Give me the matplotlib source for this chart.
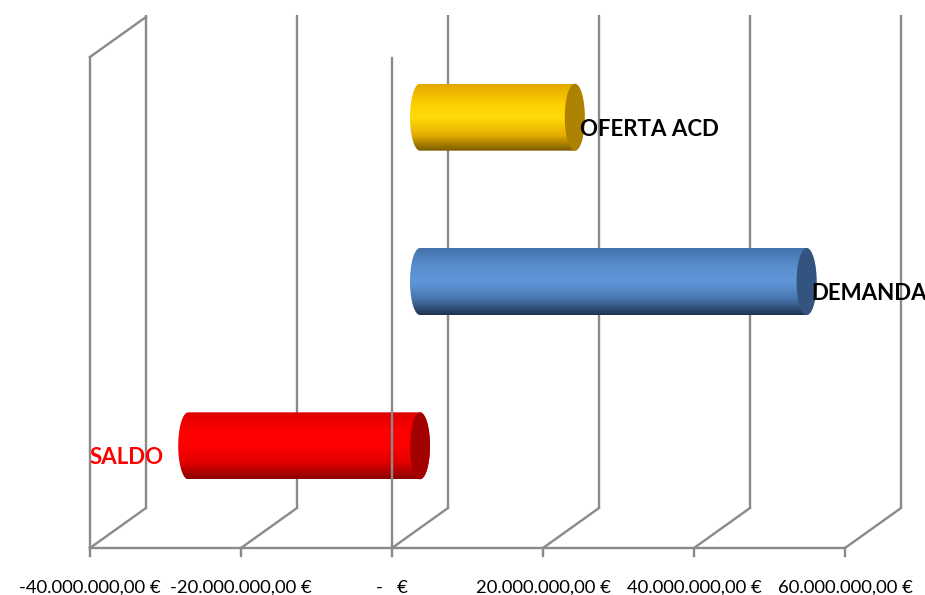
import numpy as np
import matplotlib
matplotlib.use("Agg")
import matplotlib.pyplot as plt
from matplotlib.patches import Ellipse, PathPatch
from matplotlib.path import Path
from matplotlib.colors import LinearSegmentedColormap

# ---- data ----
categories = ["SALDO", "DEMANDA", "OFERTA ACD"]          # bottom -> top
values = [-30.7e6, 51.2e6, 20.5e6]
label_colors = ["#FF0000", "#000000", "#000000"]
tick_values = [-40e6, -20e6, 0, 20e6, 40e6, 60e6]
tick_labels = ["-40.000.000,00 €", "-20.000.000,00 €", "-   €",
               "20.000.000,00 €", "40.000.000,00 €", "60.000.000,00 €"]

# ---- styles ----
body_stops = [
    ["#E00000", "#FF0000", "#FF0000", "#E40000", "#880000"],
    ["#4473AE", "#5A8FD0", "#5F97DA", "#4A78B2", "#1E3350"],
    ["#E3A800", "#FFCF00", "#FFDB0A", "#E8B000", "#7A5A00"],
]
cap_colors = ["#A30000", "#33547F", "#AD8200"]
FONT = ["Lato", "DejaVu Sans"]

W, H = 925, 595
fig = plt.figure(figsize=(W / 100, H / 100), dpi=100)
ax = fig.add_axes([0, 0, 1, 1])
UPP = 20e6 / 151.0      # value units per pixel
X0 = 392
ax.set_xlim(-X0 * UPP, (W - X0) * UPP)
ax.set_ylim(H, 0)
ax.axis("off")

FLOOR_Y = 548
TOP_BACK = 15
DEPTH_X = 56 * UPP
DEPTH_Y = 40
TOP_FRONT = TOP_BACK + DEPTH_Y
band = (FLOOR_Y - TOP_FRONT) / len(categories)
GRID = "#8A8A8A"
LW = 1.7


def proj(v, y, d):
    return v + d * DEPTH_X, y - d * DEPTH_Y


# back wall gridlines + floor diagonals
for t in tick_values:
    xb, yb = proj(t, FLOOR_Y, 1)
    ax.plot([xb, xb], [yb, TOP_BACK], color=GRID, lw=LW, zorder=1, solid_capstyle="butt")
    ax.plot([t, xb], [FLOOR_Y, yb], color=GRID, lw=LW, zorder=1)
    ax.plot([t, t], [FLOOR_Y, FLOOR_Y + 8], color=GRID, lw=LW, zorder=1)
# front floor edge
ax.plot([tick_values[0], tick_values[-1]], [FLOOR_Y, FLOOR_Y], color=GRID, lw=LW, zorder=1)
# left wall
xl = tick_values[0]
ax.plot([xl, xl], [FLOOR_Y, TOP_FRONT + 2], color=GRID, lw=LW, zorder=1)
xlb, ylb = proj(xl, TOP_FRONT + 2, 1)
ax.plot([xl, xlb], [TOP_FRONT + 2, ylb], color=GRID, lw=LW, zorder=1)

# cylinders
rx = 10 * UPP
ry = 33.5
th = np.linspace(np.pi / 2, 3 * np.pi / 2, 40)
th2 = np.linspace(3 * np.pi / 2, 5 * np.pi / 2, 40)
for i, (cat, v) in enumerate(zip(categories, values)):
    yc_front = FLOOR_Y - band * (i + 0.5)
    x_lo, yc = proj(min(0, v), yc_front, 0.5)
    x_hi, _ = proj(max(0, v), yc_front, 0.5)
    left = np.column_stack([x_lo + rx * np.cos(th), yc - ry * np.sin(th)])
    right = np.column_stack([x_hi + rx * np.cos(th2), yc - ry * np.sin(th2)])
    verts = np.vstack([left, right, left[:1]])
    codes = [Path.MOVETO] + [Path.LINETO] * (len(verts) - 2) + [Path.CLOSEPOLY]
    patch = PathPatch(Path(verts, codes), facecolor="none", edgecolor="none", zorder=2)
    ax.add_patch(patch)
    cmap = LinearSegmentedColormap.from_list(
        "c%d" % i, list(zip([0, 0.3, 0.5, 0.75, 1.0], body_stops[i])))
    grad = np.linspace(0, 1, 256).reshape(-1, 1)
    im = ax.imshow(grad, cmap=cmap, aspect="auto", interpolation="bilinear",
                   extent=[x_lo - rx, x_hi + rx, yc + ry, yc - ry], zorder=2)
    im.set_clip_path(patch)
    cap = Ellipse((x_hi, yc), 2 * rx, 2 * ry, facecolor=cap_colors[i],
                  edgecolor="none", zorder=2.1)
    ax.add_patch(cap)
    if v >= 0:
        ax.text(x_hi + 5 * UPP, yc + 12, cat, ha="left", va="center",
                fontsize=16, fontweight="bold", family=FONT,
                color=label_colors[i], zorder=4)
    else:
        ax.text(x_lo - 25 * UPP, yc + 12, cat, ha="right", va="center",
                fontsize=16, fontweight="bold", family=FONT,
                color=label_colors[i], zorder=4)

# front vertical axis at zero (in front of bars)
ax.plot([0, 0], [FLOOR_Y, TOP_FRONT + 3], color=GRID, lw=LW, zorder=3)

# tick labels
for t, lab in zip(tick_values, tick_labels):
    ax.text(t, 588, lab, ha="center", va="center", fontsize=13.3,
            family=FONT, color="#000000")

fig.savefig("out.png", dpi=100)
